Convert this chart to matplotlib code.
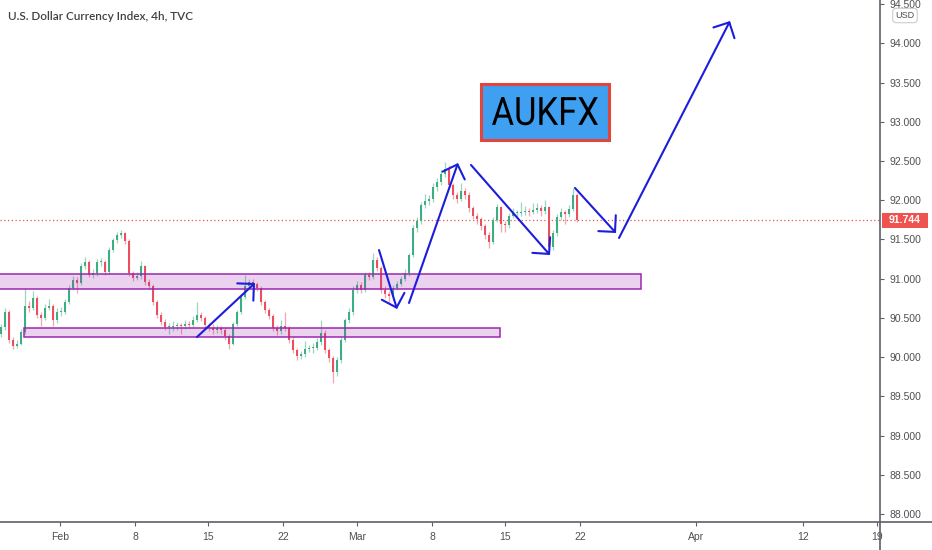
import matplotlib
matplotlib.use("Agg")
import matplotlib.pyplot as plt
import numpy as np
from matplotlib import font_manager
from matplotlib.font_manager import FontProperties
from matplotlib.lines import Line2D
from matplotlib.patches import Rectangle, PathPatch
from matplotlib.textpath import TextPath
from matplotlib.transforms import Affine2D

# ---- data (4h bars, price in index points) ----
title = "U.S. Dollar Currency Index, 4h, TVC"
first_open = 90.30
closes = [
    90.38, 90.57, 90.22, 90.14, 90.17, 90.32, 90.65, 90.63, 90.75, 90.54,
    90.50, 90.63, 90.65, 90.47, 90.57, 90.57, 90.70, 90.88, 90.98, 90.94,
    91.16, 91.21, 91.05, 91.07, 91.21, 91.21, 91.08, 91.37, 91.49, 91.56,
    91.58, 91.48, 91.07, 91.01, 91.03, 91.16, 90.96, 90.91, 90.70, 90.54,
    90.45, 90.38, 90.38, 90.40, 90.41, 90.40, 90.42, 90.41, 90.47, 90.54,
    90.50, 90.41, 90.37, 90.35, 90.37, 90.35, 90.27, 90.17, 90.42, 90.57,
    90.77, 90.91, 90.96, 90.93, 90.88, 90.70, 90.60, 90.52, 90.37, 90.33,
    90.40, 90.37, 90.22, 90.09, 90.01, 90.04, 90.10, 90.12, 90.12, 90.19,
    90.31, 90.09, 89.99, 89.81, 89.96, 90.22, 90.47, 90.57, 90.86, 90.92,
    90.86, 91.05, 91.02, 91.24, 91.14, 90.86, 90.80, 90.78, 90.88, 90.93,
    91.00, 91.07, 91.30, 91.65, 91.73, 91.94, 91.99, 92.02, 92.17, 92.23,
    92.33, 92.40, 92.19, 92.07, 92.02, 92.12, 92.07, 91.90, 91.80, 91.76,
    91.67, 91.56, 91.47, 91.75, 91.91, 91.70, 91.68, 91.80, 91.84, 91.84,
    91.85, 91.86, 91.85, 91.88, 91.90, 91.86, 91.91, 91.40, 91.58, 91.79,
    91.85, 91.82, 91.89, 92.07, 91.744,
]
highs = [
    90.42, 90.62, 90.60, 90.26, 90.22, 90.36, 90.88, 90.72, 90.84, 90.78,
    90.58, 90.68, 90.74, 90.68, 90.62, 90.64, 90.74, 90.92, 91.03, 91.02,
    91.20, 91.28, 91.24, 91.12, 91.25, 91.26, 91.24, 91.40, 91.52, 91.60,
    91.62, 91.60, 91.50, 91.10, 91.08, 91.22, 91.18, 90.99, 90.93, 90.73,
    90.58, 90.48, 90.44, 90.46, 90.45, 90.44, 90.47, 90.46, 90.52, 90.70,
    90.58, 90.52, 90.44, 90.42, 90.41, 90.40, 90.38, 90.30, 90.45, 90.60,
    90.80, 91.05, 91.00, 90.99, 90.96, 90.90, 90.73, 90.63, 90.55, 90.41,
    90.47, 90.57, 90.40, 90.25, 90.12, 90.08, 90.20, 90.16, 90.18, 90.24,
    90.47, 90.34, 90.12, 90.02, 90.00, 90.26, 90.50, 90.62, 90.90, 90.97,
    90.96, 91.09, 91.08, 91.33, 91.27, 91.16, 90.90, 90.84, 90.92, 90.97,
    91.04, 91.12, 91.33, 91.68, 91.78, 91.98, 92.08, 92.07, 92.22, 92.28,
    92.38, 92.49, 92.45, 92.22, 92.10, 92.22, 92.16, 92.10, 91.93, 91.84,
    91.79, 91.70, 91.59, 91.78, 91.95, 91.93, 91.74, 91.84, 91.90, 91.88,
    91.98, 91.92, 91.90, 91.96, 91.96, 91.94, 92.00, 91.93, 91.62, 91.83,
    91.90, 91.88, 91.94, 92.16, 92.09,
]
lows = [
    90.26, 90.35, 90.18, 90.10, 90.11, 90.15, 90.30, 90.58, 90.60, 90.50,
    90.40, 90.47, 90.60, 90.40, 90.44, 90.52, 90.55, 90.68, 90.85, 90.82,
    90.92, 91.12, 91.02, 91.01, 91.04, 91.16, 91.05, 91.06, 91.34, 91.46,
    91.52, 91.44, 91.04, 90.97, 90.98, 91.00, 90.92, 90.87, 90.66, 90.50,
    90.41, 90.34, 90.30, 90.33, 90.35, 90.30, 90.36, 90.37, 90.38, 90.45,
    90.46, 90.37, 90.33, 90.30, 90.31, 90.30, 90.22, 90.10, 90.15, 90.40,
    90.55, 90.74, 90.88, 90.89, 90.84, 90.66, 90.56, 90.48, 90.33, 90.28,
    90.30, 90.33, 90.18, 90.05, 89.96, 89.98, 90.00, 90.06, 90.05, 90.09,
    90.16, 90.05, 89.94, 89.67, 89.76, 89.93, 90.19, 90.43, 90.54, 90.82,
    90.82, 90.83, 90.98, 91.00, 91.10, 90.82, 90.75, 90.70, 90.74, 90.85,
    90.90, 90.97, 91.04, 91.27, 91.60, 91.70, 91.90, 91.94, 91.98, 92.12,
    92.20, 92.30, 92.15, 92.02, 91.96, 91.99, 92.02, 91.85, 91.76, 91.70,
    91.62, 91.50, 91.39, 91.44, 91.72, 91.60, 91.60, 91.65, 91.77, 91.79,
    91.80, 91.81, 91.80, 91.82, 91.84, 91.80, 91.83, 91.37, 91.36, 91.55,
    91.75, 91.70, 91.78, 91.86, 91.72,
]
last_price = 91.744

# time axis is bar based (weekends skipped), ticks sit on bar positions
tick_pos = [14.75, 33.5, 51.75, 70.5, 89, 107.75, 126, 144.75, 173.75, 200.5, 219]
tick_labels = ["Feb", "8", "15", "22", "Mar", "8", "15", "22", "Apr", "12", "19"]
price_ticks = [88.0, 88.5, 89.0, 89.5, 90.0, 90.5, 91.0, 91.5,
               92.0, 92.5, 93.0, 93.5, 94.0, 94.5]

# drawings: (bar_left, bar_right, price_low, price_high)
zones = [(-1, 160, 90.874, 91.053), (5.75, 124.75, 90.256, 90.365)]
# arrows: (bar, price) start -> end
arrows = [
    ((49, 90.256), (63.5, 90.945)),
    ((94.5, 91.365), (99, 90.613)),
    ((102, 90.69), (114.25, 92.474)),
    ((117.5, 92.449), (137.25, 91.301)),
    ((143.5, 92.156), (153.75, 91.582)),
    ((154.5, 91.518), (182.25, 94.284)),
]
logo_box = (120.1, 151.9, 92.765, 93.48)
logo_text = "AUKFX"

UP, DOWN = "#3cae82", "#ea4f5b"
AXIS = "#5d606b"
TXT = "#505050"

names = {f.name for f in font_manager.fontManager.ttflist}
logo_font = "Liberation Sans Narrow" if "Liberation Sans Narrow" in names else "Roboto"
tick_font = "Liberation Sans"

fig = plt.figure(figsize=(9.32, 5.5), dpi=100)
ax = fig.add_axes([0, 28 / 550, 880 / 932, 522 / 550])

opens = np.array([first_open] + closes[:-1])
c = np.array(closes)
x = np.arange(len(c))
colors = np.where(c >= opens, UP, DOWN)

ax.vlines(x, lows, highs, colors=colors, linewidth=0.9, alpha=0.5, zorder=2)
body = np.maximum(np.abs(c - opens), 0.012)
ax.bar(x, body, bottom=np.minimum(c, opens), width=0.72, color=colors,
       linewidth=0, zorder=2.5)

ax.axhline(last_price, color="#ef5350", linestyle=(0, (1, 2)), linewidth=0.9, zorder=1.5)

for x0, x1, p0, p1 in zones:
    ax.add_patch(Rectangle((x0, p0), x1 - x0, p1 - p0, facecolor=(0.61, 0.15, 0.69, 0.2),
                           edgecolor="#9c27b0", linewidth=1.1, zorder=3))

for start, end in arrows:
    ax.annotate("", xy=end, xytext=start,
                arrowprops=dict(arrowstyle="->,head_length=0.85,head_width=0.85",
                                color="#1c1cdc", lw=1.5, mutation_scale=10,
                                shrinkA=0, shrinkB=0), zorder=4)

bx0, bx1, bp0, bp1 = logo_box
ax.add_patch(Rectangle((bx0, bp0), bx1 - bx0, bp1 - bp0, facecolor="#3f9ff0",
                       edgecolor="#e0463c", linewidth=2.2, zorder=5))

ax.set_xlim(-0.25, 219.75)
ax.set_ylim(87.898, 94.552)

# logo text: slightly condensed outline so it fits the box like the original
tp = TextPath((0, 0), logo_text, size=39, prop=FontProperties(family=logo_font))
ext = tp.get_extents()
cx, base = ax.transData.transform(((bx0 + bx1) / 2, 92.96))
sx = 106 / ext.width if logo_font == "Roboto" else 1.0
logo_tr = Affine2D().translate(-(ext.x0 + ext.width / 2), 0).scale(sx, 1.0).translate(cx, base)
fig.add_artist(PathPatch(tp, transform=logo_tr, facecolor="black", edgecolor="none",
                         zorder=6))

for s in ax.spines.values():
    s.set_visible(False)

ax.yaxis.tick_right()
ax.set_yticks(price_ticks)
ax.set_yticklabels([f"{p:.3f}" for p in price_ticks])
ax.set_xticks(tick_pos)
ax.set_xticklabels(tick_labels)
ax.tick_params(axis="y", direction="out", length=3, width=0.8, color=AXIS, pad=4,
               labelsize=7.5, labelcolor=TXT)
ax.tick_params(axis="x", direction="out", length=3, width=0.8, color=AXIS, pad=4,
               labelsize=7.5, labelcolor=TXT)
for lab in ax.get_xticklabels() + ax.get_yticklabels():
    lab.set_family(tick_font)

# axis lines running across the whole canvas, as on the trading screen
fig.add_artist(Line2D([0, 1], [28 / 550, 28 / 550], color=AXIS, linewidth=1.2))
fig.add_artist(Line2D([880 / 932, 880 / 932], [0, 1], color=AXIS, linewidth=1.2))

# last price tag on the price scale
tr = ax.get_yaxis_transform()
ax.add_patch(Rectangle((882 / 880, last_price - 0.095), 46 / 880, 0.19, transform=tr,
                       facecolor="#ef5350", edgecolor="none", clip_on=False, zorder=6))
ax.text(905 / 880, last_price, f"{last_price:.3f}", transform=tr, ha="center",
        va="center", color="white", fontsize=7.5, fontweight="bold",
        family=tick_font, zorder=7, clip_on=False)

fig.text(905 / 932, 1 - 15.5 / 550, "USD", ha="center", va="center", fontsize=6.5,
         color=TXT, family=tick_font,
         bbox=dict(boxstyle="round,pad=0.3,rounding_size=0.4", fc="white", ec="#cccccc",
                   lw=0.8))

fig.text(8 / 932, 1 - 17 / 550, title, ha="left", va="center", fontsize=8.5,
         fontweight="semibold", family="Lato", color="#404040")

fig.savefig("out.png", dpi=100)
